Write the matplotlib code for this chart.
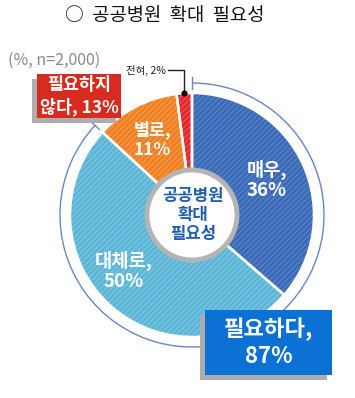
import matplotlib.pyplot as plt
from matplotlib.patches import Circle, Rectangle, Arc
import numpy as np

plt.rcParams['font.family'] = ['Noto Sans CJK KR', 'DejaVu Sans']
plt.rcParams['hatch.linewidth'] = 0.8

# data
labels = ['매우,\n36%', '대체로,\n50%', '별로,\n11%', '전혀, 2%']
values = [36, 50, 11, 2]
face_colors = ['#3c69b6', '#5cb5d6', '#ef7f1f', '#e2262b']
hatch_colors = ['#5a86cc', '#7cc9e2', '#f59d52', '#ee5559']
title = '○  공공병원  확대  필요성'
note = '(%, n=2,000)'
center_text = '공공병원\n확대\n필요성'
yes_text = '필요하다,\n87%'
no_text = '필요하지\n않다, 13%'

W, H = 355, 398
fig = plt.figure(figsize=(W / 100, H / 100), dpi=100)
ax = fig.add_axes([0, 0, 1, 1])

def Y(y):
    return H - y  # pixel rows from top

cx, cy, r = 192, Y(215), 122

# pie with hatching, then white slice borders
wedges, _ = ax.pie(values, center=(cx, cy), radius=r, startangle=90,
                   counterclock=False, colors=face_colors, frame=True,
                   wedgeprops=dict(linewidth=0))
for w, hc in zip(wedges, hatch_colors):
    w.set_hatch('//////')
    w.set_edgecolor(hc)
ax.pie(values, center=(cx, cy), radius=r, startangle=90, counterclock=False,
       frame=True, wedgeprops=dict(fill=False, edgecolor='white', linewidth=1.8))
ax.set_xlim(0, W)
ax.set_ylim(0, H)
ax.set_aspect('equal')
ax.axis('off')

# inner circle
ax.add_patch(Circle((cx, cy), 45, facecolor='white', edgecolor='#b4b4b4',
                    linewidth=3.5, zorder=5))
ax.text(cx + 1, cy, center_text, ha='center', va='center', fontsize=12,
        fontweight='bold', color='#1f5fae', linespacing=1.1, zorder=6)

# outer bracket arc for 87%
yes_share = (values[0] + values[1]) / sum(values)
ang_end = 90 - yes_share * 360
ra = 132
ax.add_patch(Arc((cx, cy), 2 * ra, 2 * ra, theta1=ang_end % 360, theta2=450,
                 color='#6a86c4', linewidth=1.0, zorder=2))
for a in (90, ang_end):
    t = np.deg2rad(a)
    ax.plot([cx + (ra - 6) * np.cos(t), cx + (ra + 6) * np.cos(t)],
            [cy + (ra - 6) * np.sin(t), cy + (ra + 6) * np.sin(t)],
            color='#6a86c4', linewidth=1.0, zorder=2)

# slice labels
ax.text(267, Y(180), labels[0], ha='center', va='center', fontsize=13.5,
        fontweight='bold', color='white', linespacing=1.1, zorder=4)
ax.text(124, Y(271), labels[1], ha='center', va='center', fontsize=13.5,
        fontweight='bold', color='white', linespacing=1.1, zorder=4)
ax.text(152, Y(140), labels[2], ha='center', va='center', fontsize=12.5,
        fontweight='bold', color='white', linespacing=1.1, zorder=4)

# leader for 2%
mid = np.deg2rad(90 + values[3] / sum(values) * 180)
px, py = cx + r * np.cos(mid), cy + r * np.sin(mid)
ax.plot([168, px, px], [Y(70), Y(70), py], color='#222222', linewidth=1.0, zorder=4)
ax.plot(px, py, 'o', color='#111111', markersize=3.5, zorder=4)
ax.text(166, Y(70), labels[3], ha='right', va='center', fontsize=7.5,
        color='#222222', zorder=4)

# boxes with shadows
def box(x0, y0, x1, y1, color, text, fs):
    ax.add_patch(Rectangle((x0 - 5, Y(y1 + 5)), x1 - x0, y1 - y0,
                           facecolor='#adadad', edgecolor='none', zorder=7))
    ax.add_patch(Rectangle((x0, Y(y1)), x1 - x0, y1 - y0,
                           facecolor=color, edgecolor='none', zorder=8))
    ax.text((x0 + x1) / 2, Y((y0 + y1) / 2), text, ha='center', va='center',
            fontsize=fs, fontweight='bold', color='white', linespacing=1.2,
            zorder=9)

box(37, 74, 121, 118, '#d72b1f', no_text, 12.5)
box(205, 310, 332, 375, '#0b71d4', yes_text, 16)

# title and note
ax.text(165, Y(15), title, ha='center', va='center', fontsize=13.5,
        color='#111111')
ax.text(8, Y(60), note, ha='left', va='center', fontsize=11.5, color='#8a8a8a')

fig.savefig('out.png', dpi=100)
